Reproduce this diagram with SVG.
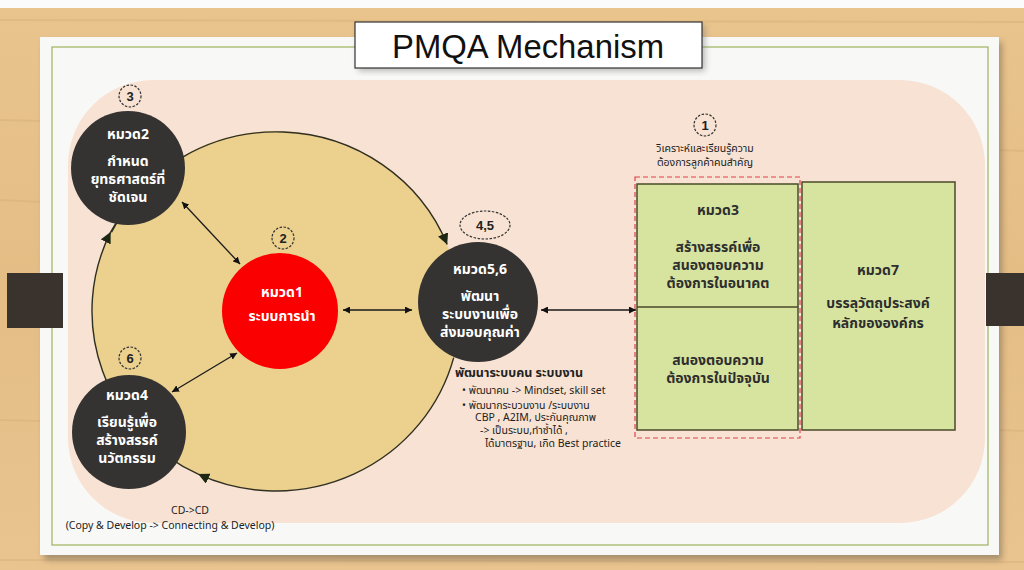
<svg xmlns="http://www.w3.org/2000/svg" width="1024" height="570" viewBox="0 0 1024 570">
<defs>
<linearGradient id="wood" x1="0" y1="0" x2="0" y2="1">
<stop offset="0" stop-color="#e9c48d"/>
<stop offset="0.5" stop-color="#e4bd85"/>
<stop offset="1" stop-color="#e9c48f"/>
</linearGradient>
<filter id="sh" x="-5%" y="-5%" width="110%" height="115%">
<feGaussianBlur stdDeviation="3"/>
</filter>
<marker id="flow" viewBox="0 0 10 10" refX="10" refY="5" markerWidth="11" markerHeight="11" markerUnits="userSpaceOnUse" orient="auto">
<path d="M0,0 L10,5 L0,10 Z" fill="#1e2614"/>
</marker>
<marker id="ah" viewBox="0 0 10 10" refX="10" refY="5" markerWidth="7" markerHeight="7" markerUnits="userSpaceOnUse" orient="auto-start-reverse">
<path d="M0,0 L10,5 L0,10 Z" fill="#111"/>
</marker>
<style>
.th{font-family:"Noto Sans Thai","Tahoma","Noto Sans","DejaVu Sans",sans-serif;}
.w{fill:#ffffff;font-size:14px;font-weight:bold;text-anchor:middle;}
.b{fill:#2e2e2e;font-size:14px;font-weight:bold;text-anchor:middle;}
.s{fill:#222;font-size:10.5px;}
.num{fill:#222;font-size:13px;font-weight:bold;text-anchor:middle;font-family:"Liberation Sans",sans-serif;}
.dash{fill:none;stroke:#333;stroke-width:1.2;stroke-dasharray:2.5 1.5;}
.dark{fill:#353331;}
.box{fill:#d7e4a0;stroke:#4a4a2a;stroke-width:1.5;}
.con{fill:none;stroke:#1a1a1a;stroke-width:1.3;}
.arc{fill:none;stroke:#2f2f22;stroke-width:1.4;}
</style>
</defs>

<!-- background -->
<rect x="0" y="0" width="1024" height="570" fill="url(#wood)"/>
<rect x="0" y="0" width="1024" height="8" fill="#fbfbfb"/>
<g opacity="0.25" stroke="#c9a06a" stroke-width="2">
<line x1="0" y1="20" x2="1024" y2="22"/>
<line x1="0" y1="120" x2="40" y2="121"/>
<line x1="0" y1="200" x2="40" y2="202"/>
<line x1="0" y1="420" x2="40" y2="421"/>
<line x1="0" y1="560" x2="1024" y2="562"/>
<line x1="1000" y1="150" x2="1024" y2="151"/>
<line x1="1000" y1="430" x2="1024" y2="431"/>
</g>
<rect x="44" y="42" width="958" height="518" fill="#7a6a55" opacity="0.6" filter="url(#sh)"/>
<rect x="40" y="37" width="959" height="518" fill="#f8f8f7"/>
<rect x="52" y="47" width="936" height="498" fill="none" stroke="#9db35a" stroke-width="1.2"/>
<rect x="68" y="80" width="917" height="443" rx="85" ry="85" fill="#f8e2d3"/>

<!-- side tabs -->
<rect x="7" y="273" width="56" height="55" fill="#3a322c"/>
<rect x="986" y="273" width="38" height="53" fill="#3a322c"/>

<!-- title -->
<g id="title">
<rect x="358" y="25" width="347" height="46" fill="#777" opacity="0.5" filter="url(#sh)"/>
<rect x="355" y="22" width="347" height="46" fill="#ffffff" stroke="#333" stroke-width="1.2"/>
<text x="528" y="58" font-family="Liberation Sans, sans-serif" font-size="33" fill="#111" text-anchor="middle" textLength="272" lengthAdjust="spacingAndGlyphs">PMQA Mechanism</text>
</g>

<!-- big cycle background -->
<ellipse cx="276" cy="311" rx="184" ry="180" fill="#ebd08e"/>

<!-- connectors -->
<g id="connectors">
<path class="arc" d="M 111.5 232.3 A 184 180 0 0 1 447.2 244.6" marker-end="url(#flow)"/>
<path class="arc" d="M 453.7 357.6 A 184 180 0 0 1 198.2 474.1" marker-end="url(#flow)"/>
<path class="arc" d="M 198.2 474.1 A 184 180 0 0 1 110.6 232.1" marker-end="url(#flow)"/>
<path class="arc" d="M 110.6 232.1 A 184 180 0 0 1 125 210"/>
<line class="con" x1="182" y1="202" x2="240" y2="264" marker-start="url(#ah)" marker-end="url(#ah)"/>
<line class="con" x1="172" y1="392" x2="237" y2="353" marker-start="url(#ah)" marker-end="url(#ah)"/>
<line class="con" x1="343" y1="310" x2="412" y2="310" marker-start="url(#ah)" marker-end="url(#ah)"/>
<line class="con" x1="541" y1="310" x2="636" y2="310" marker-start="url(#ah)" marker-end="url(#ah)"/>
</g>

<!-- หมวด2 -->
<g id="n2">
<circle class="dark" cx="128" cy="168" r="57"/>
<circle class="dash" cx="130" cy="96" r="11"/>
<text class="num" x="130" y="101">3</text>
<text class="th w" x="128" y="139">หมวด2</text>
<text class="th w" x="128" y="166">กำหนด</text>
<text class="th w" x="128" y="184">ยุทธศาสตร์ที่</text>
<text class="th w" x="128" y="202">ชัดเจน</text>
</g>

<!-- หมวด1 -->
<g id="n1">
<circle cx="280" cy="311" r="58" fill="#fb0000"/>
<circle class="dash" cx="283" cy="238" r="11"/>
<text class="num" x="283" y="243">2</text>
<text class="th w" x="282" y="297">หมวด1</text>
<text class="th w" x="282" y="321">ระบบการนำ</text>
</g>

<!-- หมวด5,6 -->
<g id="n56">
<circle class="dark" cx="478" cy="302" r="60"/>
<ellipse class="dash" cx="485" cy="225" rx="25" ry="14"/>
<text class="num" x="485" y="230">4,5</text>
<text class="th w" x="480" y="274">หมวด5,6</text>
<text class="th w" x="480" y="301">พัฒนา</text>
<text class="th w" x="480" y="319">ระบบงานเพื่อ</text>
<text class="th w" x="480" y="337">ส่งมอบคุณค่า</text>
</g>

<!-- หมวด4 -->
<g id="n4">
<circle class="dark" cx="129" cy="432" r="57"/>
<circle class="dash" cx="130" cy="358" r="11"/>
<text class="num" x="130" y="363">6</text>
<text class="th w" x="127" y="400">หมวด4</text>
<text class="th w" x="127" y="427">เรียนรู้เพื่อ</text>
<text class="th w" x="127" y="445">สร้างสรรค์</text>
<text class="th w" x="127" y="463">นวัตกรรม</text>
</g>

<!-- note under หมวด5,6 -->
<g id="note56">
<text class="th" x="455" y="377" font-size="12.5" font-weight="bold" fill="#222">พัฒนาระบบคน ระบบงาน</text>
<text class="th s" x="462" y="394">• พัฒนาคน -&gt; Mindset, skill set</text>
<text class="th s" x="462" y="409">• พัฒนากระบวนงาน /ระบบงาน</text>
<text class="th s" x="475" y="421">CBP , A2IM, ประกันคุณภาพ</text>
<text class="th s" x="480" y="434">-&gt; เป็นระบบ,ทำซ้ำได้ ,</text>
<text class="th s" x="485" y="447">ได้มาตรฐาน, เกิด Best practice</text>
</g>

<!-- bottom note -->
<g id="cdnote">
<text class="th s" x="190" y="514" text-anchor="middle">CD-&gt;CD</text>
<text class="th s" x="170" y="529" text-anchor="middle">(Copy &amp; Develop -&gt; Connecting &amp; Develop)</text>
</g>

<!-- หมวด3 -->
<g id="n3">
<circle class="dash" cx="705" cy="125" r="11"/>
<text class="num" x="705" y="130">1</text>
<text class="th s" x="705" y="152" text-anchor="middle">วิเคราะห์และเรียนรู้ความ</text>
<text class="th s" x="705" y="166" text-anchor="middle">ต้องการลูกค้าคนสำคัญ</text>
<rect class="box" x="637" y="184" width="161" height="246"/>
<line x1="637" y1="307" x2="798" y2="307" stroke="#4a4a2a" stroke-width="1.5"/>
<rect x="635" y="177" width="165" height="261" fill="none" stroke="#e0424a" stroke-width="1.2" stroke-dasharray="5 3"/>
<text class="th b" x="718" y="215">หมวด3</text>
<text class="th b" x="718" y="252">สร้างสรรค์เพื่อ</text>
<text class="th b" x="718" y="270">สนองตอบความ</text>
<text class="th b" x="718" y="288">ต้องการในอนาคต</text>
<text class="th b" x="718" y="365">สนองตอบความ</text>
<text class="th b" x="718" y="383">ต้องการในปัจจุบัน</text>
</g>

<!-- หมวด7 -->
<g id="n7">
<rect class="box" x="802" y="182" width="153" height="248"/>
<text class="th b" x="878" y="275">หมวด7</text>
<text class="th b" x="878" y="308">บรรลุวัตถุประสงค์</text>
<text class="th b" x="878" y="328">หลักขององค์กร</text>
</g>
</svg>
